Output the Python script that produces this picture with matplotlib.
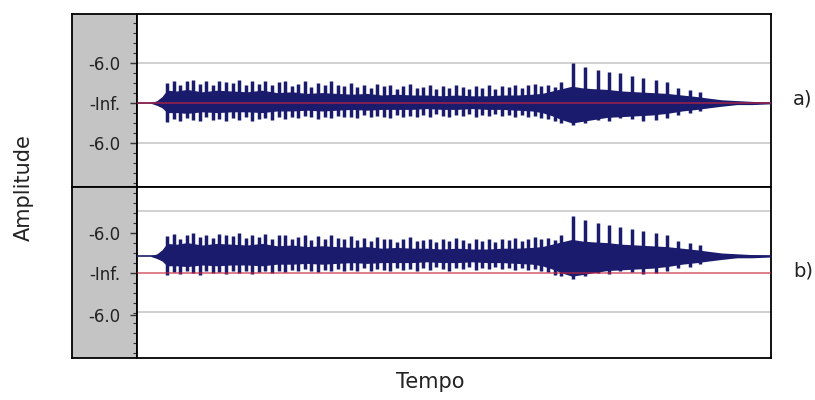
import matplotlib.pyplot as plt
from matplotlib.ticker import MultipleLocator

# pulse positions (s) with peak / trough amplitude
pulse_t = [0.30, 0.37, 0.43, 0.50, 0.56, 0.63, 0.69, 0.76, 0.82, 0.89,
           0.96, 1.02, 1.09, 1.15, 1.22, 1.28, 1.35, 1.42, 1.48, 1.55,
           1.61, 1.68, 1.74, 1.81, 1.88, 1.94, 2.01, 2.07, 2.14, 2.20,
           2.27, 2.34, 2.40, 2.47, 2.53, 2.60, 2.66, 2.73, 2.80, 2.86,
           2.93, 2.99, 3.06, 3.12, 3.19, 3.26, 3.32, 3.39, 3.45, 3.52,
           3.58, 3.65, 3.72, 3.78, 3.85, 3.91, 3.98, 4.04, 4.11, 4.18,
           4.24,
           4.36, 4.48, 4.61, 4.72, 4.83, 4.95, 5.06, 5.19, 5.30, 5.41, 5.53, 5.63]
pulse_hi = [0.25, 0.28, 0.22, 0.27, 0.29, 0.24, 0.27, 0.23, 0.28, 0.26,
            0.25, 0.29, 0.23, 0.27, 0.24, 0.28, 0.22, 0.26, 0.27, 0.21,
            0.24, 0.27, 0.20, 0.25, 0.22, 0.27, 0.23, 0.21, 0.25, 0.20,
            0.23, 0.19, 0.24, 0.21, 0.22, 0.18, 0.21, 0.24, 0.19, 0.20,
            0.22, 0.18, 0.21, 0.19, 0.23, 0.20, 0.17, 0.21, 0.19, 0.22,
            0.18, 0.21, 0.20, 0.23, 0.19, 0.22, 0.24, 0.21, 0.23, 0.20,
            0.26,
            0.50, 0.45, 0.41, 0.39, 0.37, 0.34, 0.31, 0.29, 0.26, 0.19, 0.16, 0.14]
pulse_lo = [-0.24, -0.20, -0.22, -0.19, -0.21, -0.23, -0.18, -0.21, -0.20, -0.22,
            -0.19, -0.21, -0.18, -0.22, -0.20, -0.19, -0.21, -0.18, -0.20, -0.17,
            -0.19, -0.16, -0.18, -0.20, -0.17, -0.19, -0.16, -0.18, -0.17, -0.19,
            -0.15, -0.18, -0.16, -0.17, -0.19, -0.15, -0.17, -0.16, -0.18, -0.15,
            -0.17, -0.14, -0.16, -0.18, -0.15, -0.16, -0.14, -0.17, -0.15, -0.16,
            -0.14, -0.16, -0.15, -0.17, -0.15, -0.17, -0.16, -0.19, -0.20, -0.23,
            -0.25,
            -0.28, -0.25, -0.21, -0.22, -0.19, -0.20, -0.22, -0.21, -0.19, -0.15, -0.13, -0.10]

# envelope of the dense body of the signal
env_t = [0.00, 0.13, 0.20, 0.25, 0.30, 0.40, 0.50, 0.65, 0.80, 0.95,
         1.10, 1.25, 1.40, 1.55, 1.70, 1.85, 2.00, 2.15, 2.30, 2.45,
         2.60, 2.75, 2.90, 3.05, 3.20, 3.35, 3.50, 3.65, 3.80, 3.95,
         4.05, 4.15, 4.25, 4.35, 4.45, 4.55, 4.70, 4.85, 5.00, 5.15,
         5.30, 5.45, 5.60, 5.72, 5.85, 6.00, 6.15, 6.34]
env_hi = [0.00, 0.00, 0.03, 0.08, 0.16, 0.15, 0.17, 0.14, 0.16, 0.15,
          0.14, 0.16, 0.13, 0.14, 0.12, 0.13, 0.12, 0.11, 0.12, 0.10,
          0.11, 0.10, 0.10, 0.09, 0.10, 0.09, 0.09, 0.10, 0.10, 0.11,
          0.12, 0.15, 0.18, 0.21, 0.19, 0.18, 0.17, 0.15, 0.14, 0.13,
          0.12, 0.10, 0.08, 0.06, 0.04, 0.03, 0.02, 0.01]
env_lo = [0.00, 0.00, -0.03, -0.06, -0.12, -0.12, -0.13, -0.11, -0.12, -0.11,
          -0.11, -0.12, -0.10, -0.10, -0.09, -0.10, -0.09, -0.08, -0.09, -0.08,
          -0.08, -0.08, -0.07, -0.08, -0.08, -0.07, -0.08, -0.08, -0.09, -0.10,
          -0.12, -0.16, -0.21, -0.25, -0.23, -0.21, -0.18, -0.17, -0.16, -0.15,
          -0.13, -0.10, -0.08, -0.06, -0.04, -0.02, -0.02, -0.01]

# the second track carries a DC offset
offset_b = 0.21

wave_col = '#1b1b6e'
px = 1 / 100
fig = plt.figure(figsize=(815 * px, 400 * px), dpi=100)
fig.patch.set_facecolor('white')

L, R = 137 / 815, 771 / 815
GL = 72 / 815
panels = [
    # (bottom, height, ylim, grid, tick positions, dc offset, label, label y px)
    (1 - 187 / 400, 173 / 400, (-1.05, 1.1125), [0.5, -0.5], [0.5, 0.0, -0.5], 0.0, 'a)', 99),
    (1 - 358 / 400, 171 / 400, (-1.0625, 1.075), [0.775, -0.4875], [0.5, 0.0, -0.525], offset_b, 'b)', 271),
]

for bottom, height, ylim, grid, ticks, dc, lab, lab_y in panels:
    # grey ruler column on the left
    rul = fig.add_axes([GL, bottom, L - GL, height])
    rul.set_facecolor('#c4c4c4')
    rul.set_xticks([])
    rul.set_yticks([])
    for s in rul.spines.values():
        s.set_linewidth(1.3)
        s.set_color('black')

    ax = fig.add_axes([L, bottom, R - L, height])
    ax.set_zorder(2)
    ax.set_xlim(0, 6.34)
    ax.set_ylim(*ylim)
    for g in grid:
        ax.axhline(g, color='#c8c8c8', lw=1.2, zorder=1)

    lo = [v + dc for v in env_lo]
    hi = [v + dc for v in env_hi]
    ax.fill_between(env_t, lo, hi, color=wave_col, lw=0, zorder=3)
    ax.vlines(pulse_t, [v + dc for v in pulse_lo], [v + dc for v in pulse_hi],
              color=wave_col, lw=2.5, zorder=3)
    ax.axhline(dc, color=wave_col, lw=1.2, zorder=3)
    ax.axhline(0, color='#c8243c', lw=1.1, alpha=0.75, zorder=4)

    ax.set_xticks([])
    ax.set_yticks(ticks)
    ax.set_yticklabels(['-6.0', '-Inf.', '-6.0'])
    ax.yaxis.set_minor_locator(MultipleLocator(0.125))
    ax.tick_params(axis='y', which='major', direction='out', length=5, width=1,
                   pad=7, labelsize=12, labelcolor='#222222', color='#333333')
    ax.tick_params(axis='y', which='minor', direction='out', length=3, width=0.8,
                   color='#333333')
    for s in ax.spines.values():
        s.set_linewidth(1.3)
        s.set_color('black')

    fig.text(803 / 815, 1 - lab_y / 400, lab, ha='center', va='center',
             fontsize=14, color='#222222')

fig.text(24 / 815, 1 - 188 / 400, 'Amplitude', rotation=90, ha='center', va='center',
         fontsize=15, color='#222222')
fig.text(430 / 815, 1 - 382 / 400, 'Tempo', ha='center', va='center',
         fontsize=15, color='#222222')

fig.savefig('out.png', dpi=100, facecolor='white')
